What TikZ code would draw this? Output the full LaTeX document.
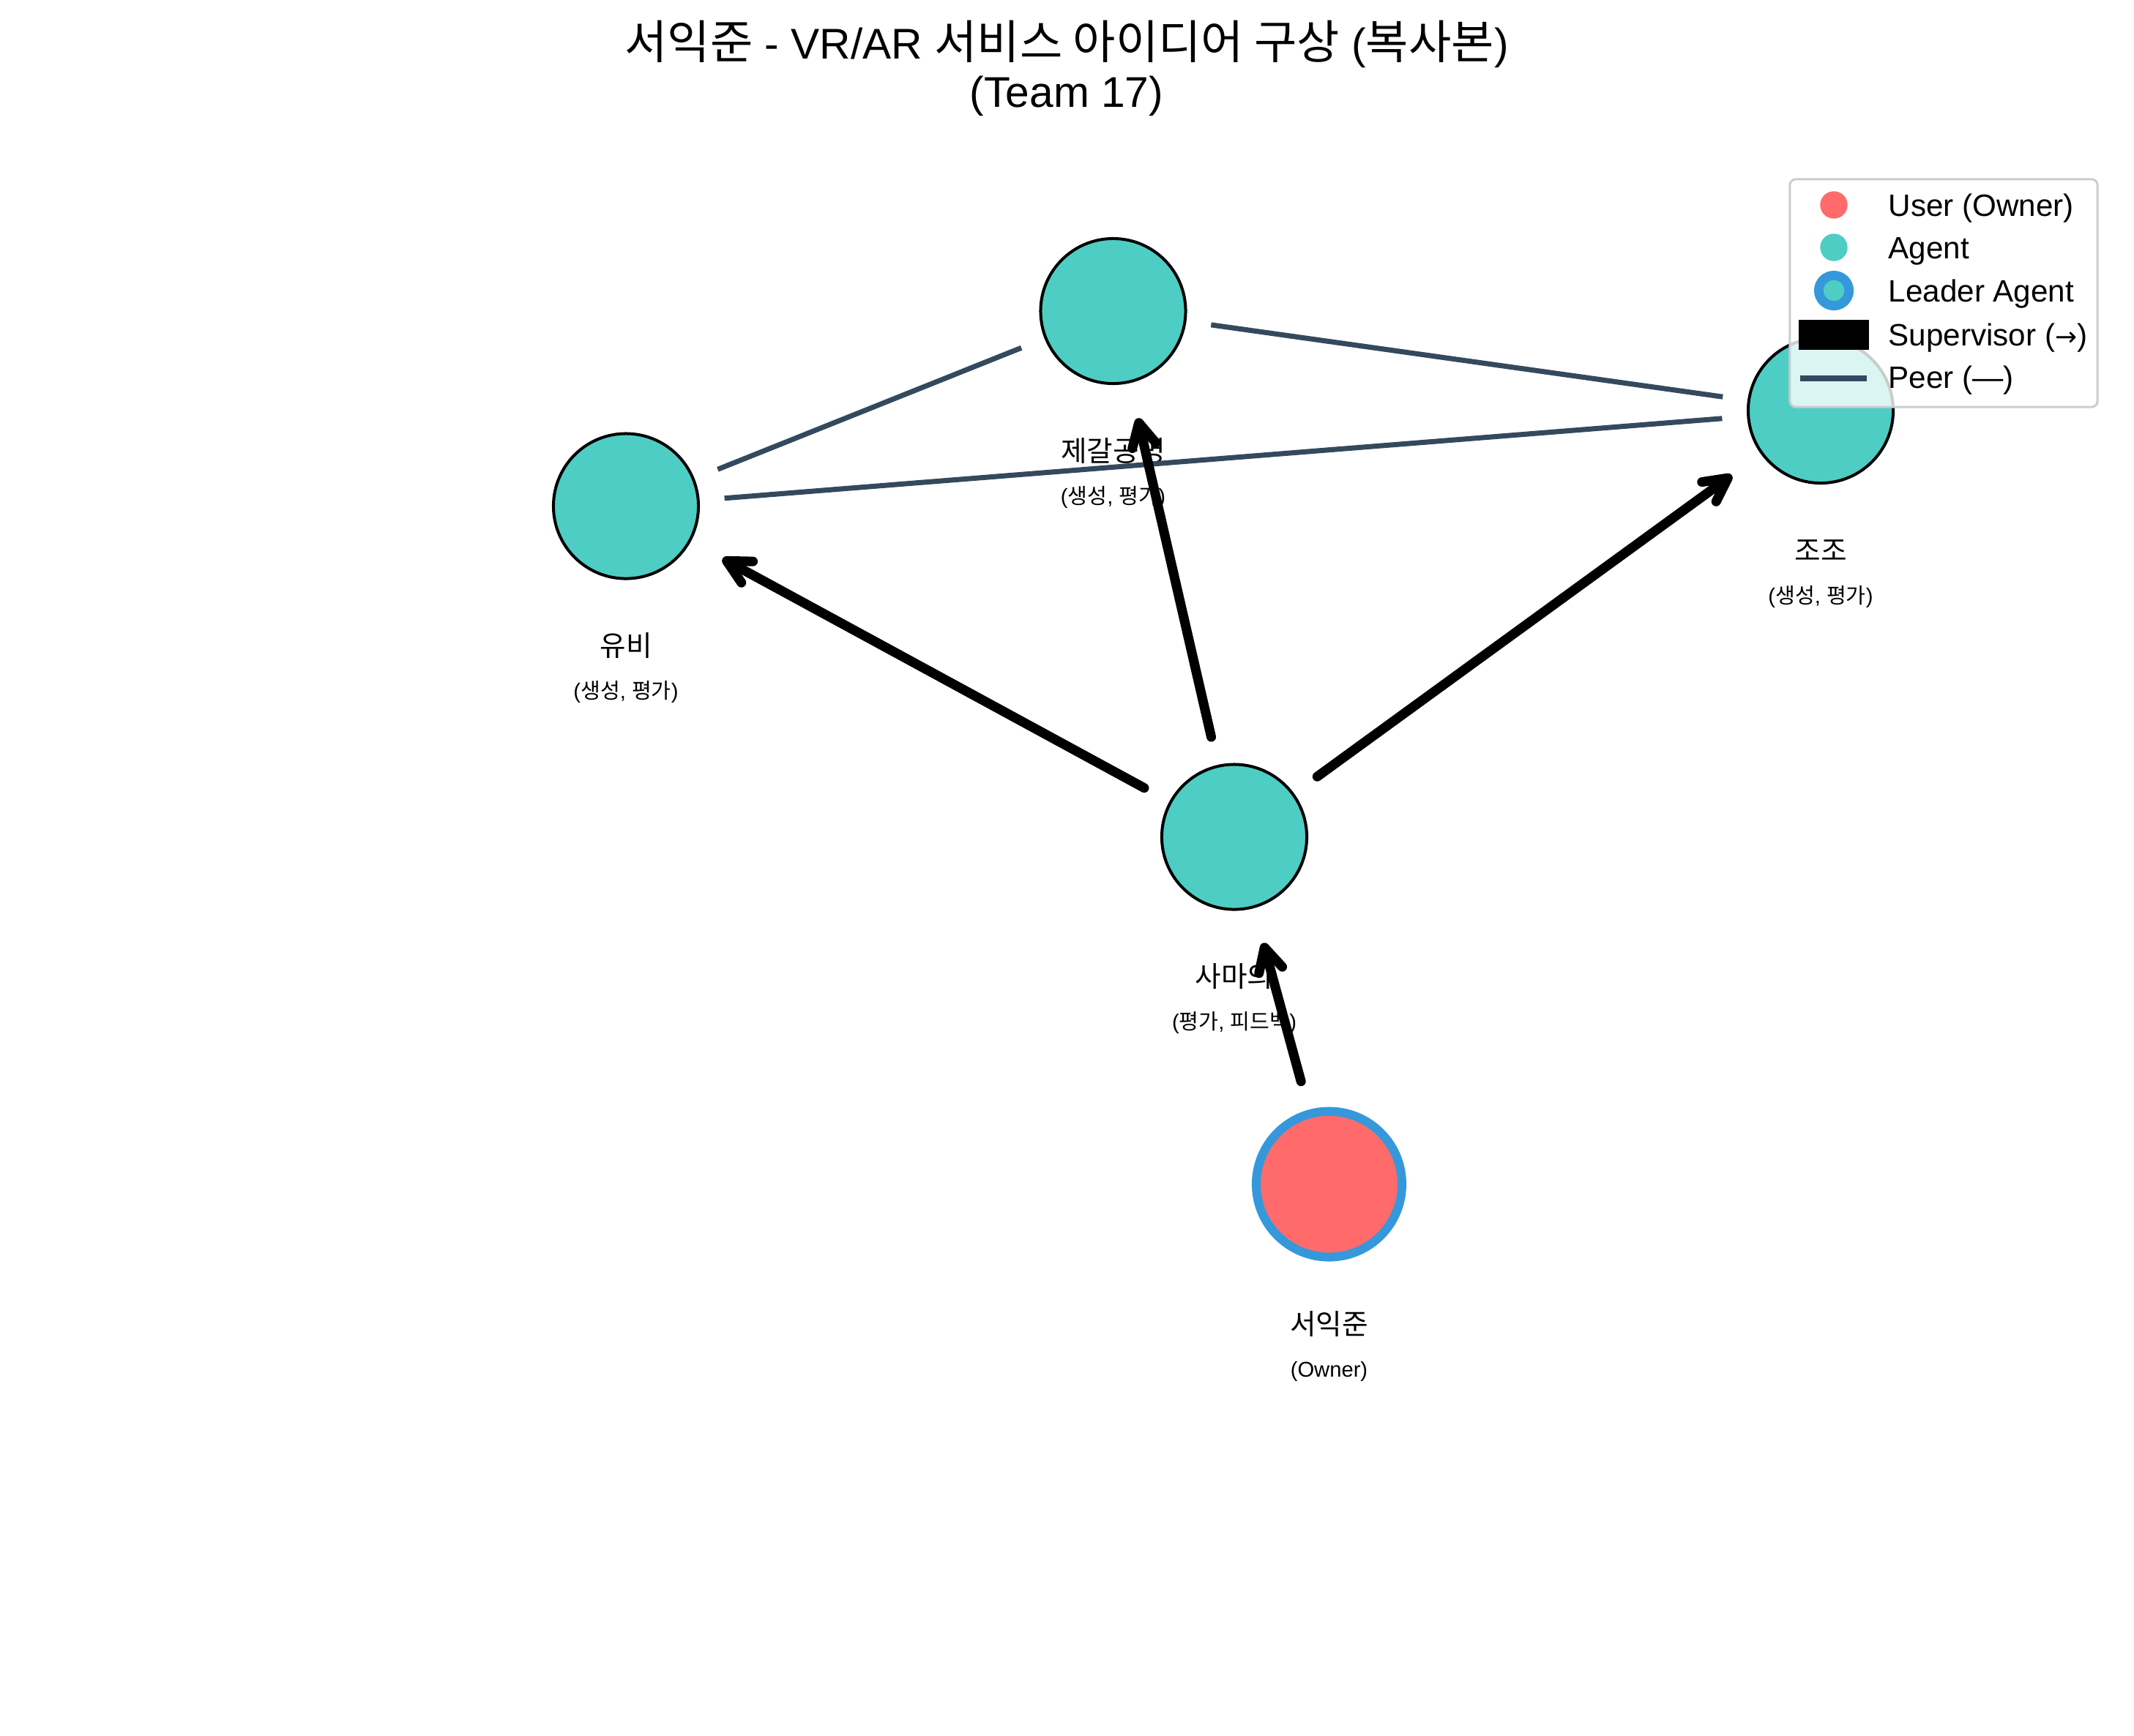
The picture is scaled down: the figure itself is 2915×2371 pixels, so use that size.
\documentclass[tikz,border=0pt]{standalone}
\usepackage{fontspec}
\setmainfont{Liberation Sans}
\newfontfamily\kr{Noto Sans CJK KR}
\newfontfamily\krt[Scale=1.08]{Noto Sans CJK KR}
\newfontfamily\arrowfont[Scale=0.85]{DejaVu Sans}
\usetikzlibrary{arrows.meta}
\definecolor{agentc}{HTML}{4ECDC4}
\definecolor{userc}{HTML}{FF6B6B}
\definecolor{leadc}{HTML}{3498DB}
\definecolor{peerc}{HTML}{34495E}
\definecolor{legc}{HTML}{CCCCCC}
\begin{document}
\begin{tikzpicture}[x=0.01cm,y=-0.01cm,
  agent/.style={circle, fill=agentc, draw=black, line width=0.04cm, minimum size=1.98cm, inner sep=0pt},
  owner/.style={circle, fill=userc, draw=leadc, line width=0.12cm, minimum size=1.99cm, inner sep=0pt},
  lab/.style={anchor=base, inner sep=0pt, font=\fontsize{11pt}{13pt}\selectfont\kr},
  sublab/.style={anchor=base, inner sep=0pt, font=\fontsize{8.3pt}{10pt}\selectfont},
  titletext/.style={anchor=base, inner sep=0pt, font=\fontsize{16.7pt}{20pt}\selectfont},
  legtext/.style={anchor=base west, inner sep=0pt, font=\fontsize{12pt}{14pt}\selectfont},
  peer/.style={draw=peerc, line width=0.07cm, shorten <=0.34cm, shorten >=0.34cm},
  sup/.style={draw=black, line width=0.13cm, line cap=round,
    -{Straight Barb[length=0.32cm, width=0.33cm, line cap=round, line join=round]},
    shorten >=0.49cm}
]
\useasboundingbox (0,0) rectangle (2915,2371);

% title
\node[titletext] (t1) at (1457,80) {{\krt 서익준} - VR/AR {\krt 서비스 아이디어 구상} ({\krt 복사본})};
\node[titletext] (t2) at (1457,146) {(Team 17)};

% nodes
\node[agent] (zhuge) at (1520.5,425) {};
\node[agent] (liu) at (855,691.5) {};
\node[agent] (cao) at (2487,561) {};
\node[agent] (sima) at (1686,1143.5) {};
\node[owner] (own) at (1815.5,1618) {};

% labels
\node[lab] (zhugeL) at (1520.5,630) {제갈공명};
\node[sublab] (zhugeS) at (1520.5,688) {({\kr 생성}, {\kr 평가})};
\node[lab] (liuL) at (855,896.5) {유비};
\node[sublab] (liuS) at (855,954.5) {({\kr 생성}, {\kr 평가})};
\node[lab] (caoL) at (2487,766) {조조};
\node[sublab] (caoS) at (2487,824) {({\kr 생성}, {\kr 평가})};
\node[lab] (simaL) at (1686,1348.5) {사마의};
\node[sublab] (simaS) at (1686,1406.5) {({\kr 평가}, {\kr 피드백})};
\node[lab] (ownL) at (1815.5,1823) {서익준};
\node[sublab] (ownS) at (1815.5,1881) {(Owner)};

% peer edges
\draw[peer] (liu) -- (zhuge);
\draw[peer] (liu) -- (cao);
\draw[peer] (zhuge) -- (cao);

% supervisor edges
\draw[sup, shorten <=0.39cm] (sima) -- (liu);
\draw[sup, shorten <=0.39cm] (sima) -- (zhuge);
\draw[sup, shorten <=0.39cm] (sima) -- (cao);
\draw[sup, shorten <=0.40cm] (own) -- (sima);

% legend
\node[draw=legc, fill=white, fill opacity=0.8, line width=0.03cm, rounded corners=0.08cm,
      minimum width=4.2cm, minimum height=3.11cm, inner sep=0pt] (legend) at (2655,400.5) {};
\node[circle, fill=userc, minimum size=0.374cm, inner sep=0pt] (mUser) at (2505,280) {};
\node[circle, fill=agentc, minimum size=0.374cm, inner sep=0pt] (mAgent) at (2505,338) {};
\node[circle, fill=agentc, draw=leadc, line width=0.127cm, minimum size=0.414cm, inner sep=0pt] (mLead) at (2505,397) {};
\node[fill=black, minimum width=0.96cm, minimum height=0.41cm, inner sep=0pt] (mSup) at (2505,457.5) {};
\coordinate (pA) at (2459,517);
\coordinate (pB) at (2550,517);
\draw[draw=peerc, line width=0.08cm] (pA) -- (pB);
\node[legtext] (lUser) at (2579,295) {User (Owner)};
\node[legtext] (lAgent) at (2579,353) {Agent};
\node[legtext] (lLead) at (2579,412) {Leader Agent};
\node[legtext] (lSup) at (2579,472) {Supervisor ({\arrowfont →})};
\node[legtext] (lPeer) at (2579,530) {Peer (—)};
\end{tikzpicture}
\end{document}
